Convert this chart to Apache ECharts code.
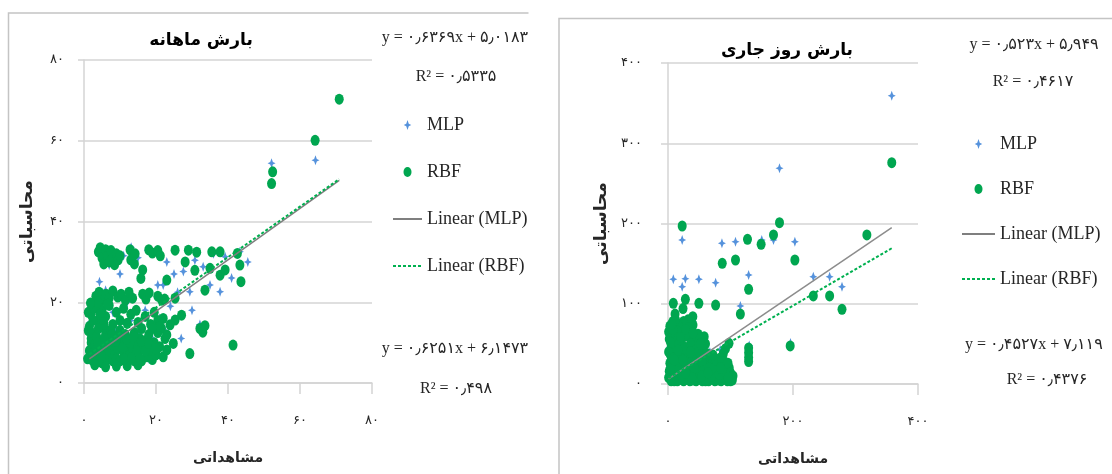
<!DOCTYPE html>
<html>
<head>
<meta charset="utf-8">
<script src="https://cdn.jsdelivr.net/npm/echarts@6/dist/echarts.min.js"></script>
<style>
html, body { margin: 0; padding: 0; background: #fff; overflow: hidden; }
#chart { width: 1112px; height: 474px; }
</style>
</head>
<body>
<div id="chart"></div>
<script>
// tick labels (Persian digits)
var monthlyXTicks = ['۰', '۲۰', '۴۰', '۶۰', '۸۰']
var monthlyYTicks = ['۰', '۲۰', '۴۰', '۶۰', '۸۰']
var dailyXTicks = ['۰', '۲۰۰', '۴۰۰']
var dailyYTicks = ['۰', '۱۰۰', '۲۰۰', '۳۰۰', '۴۰۰']

// بارش ماهانه - MLP (observed, computed)
var monthlyMLP = [
  [13.1, 33.6], [17.7, 32.8], [7, 29.2], [4.3, 25.1], [20.5, 24.3], [30.8, 30.4], [33.1, 28.8],
  [27.6, 27.6], [35, 24.3], [37.8, 22.6], [29.4, 22.6], [43.3, 32.5], [39.2, 31.3], [22, 24.3],
  [32.2, 14.5], [22.5, 13], [52.1, 54.4], [64.3, 55.2], [1.9, 15.2],
  [1.5, 5.8], [3, 5.2], [4.5, 5.6], [6, 5.3], [7.5, 5.7], [9, 5.4], [10.5, 5.8], [12, 5.5],
  [13.5, 5.9], [15, 5.6], [16.5, 5.8], [18, 6],
  [2.5, 9], [3, 12], [5, 14.5], [7, 10], [9, 13], [11, 9], [13, 15.5], [15, 12], [17, 18],
  [19, 11], [21, 16], [12, 20], [8, 17.5], [6, 23], [10, 27], [15, 31], [24, 19], [26, 22.5],
  [20, 9], [25, 27], [23, 30], [41, 26], [36, 32], [5, 33], [11, 31.5], [3.5, 18], [14, 8],
  [18.5, 14], [27, 11], [30, 18], [45.5, 30]
]
// بارش ماهانه - RBF
var monthlyRBF = [
  [4, 32.5], [4.5, 33.5], [5, 31], [5.5, 29.5], [6, 33], [6.5, 31.5], [7, 30], [7.5, 32.8],
  [8, 31], [8.5, 29.3], [9, 32], [9.5, 30.5], [10, 31.5], [12.8, 33], [13, 30.5], [14, 29.5],
  [14.2, 32], [18, 33], [19, 32.2], [20.5, 32.8], [21.2, 31.5], [25.3, 32.9], [29, 32.9],
  [31.3, 32.4], [35.5, 32.5], [37.8, 32.5], [28.1, 30], [30.8, 27.9], [35, 28.4], [37.8, 26.7],
  [39.2, 28], [42.6, 32.1], [43.3, 29.2], [43.6, 25.1], [16.3, 28], [15.8, 25.9], [23, 25.5],
  [33.6, 23], [25.3, 21], [21.6, 20.5],
  [3.3, 21.5], [4.2, 22.5], [5.2, 20.5], [6.1, 22], [7, 21], [8, 22.8], [9.4, 21.3], [10.3, 22],
  [11.5, 20.5], [12.5, 22.5], [13.5, 21], [16.3, 22], [17.2, 20.8], [18.1, 22.3], [20.5, 21.5],
  [22.4, 20.8],
  [2, 17], [3, 19], [4, 15.5], [5, 18], [6, 16.5], [7, 19.2], [8, 14.5], [9, 17.5], [10, 15.5],
  [11, 18.5], [12, 14.8], [13, 17], [14.5, 18], [15, 15], [17, 16.5], [18.5, 14.5], [19.5, 17.5],
  [20.5, 15.5], [21.5, 13.5], [22, 16], [27.1, 16.8], [25.3, 15.6], [23.9, 14.4], [32.2, 13.5],
  [33, 12.6], [33.6, 14.2],
  [1.5, 14], [2.5, 15.5], [1.2, 17.5], [2.8, 18.5], [4.5, 17], [5.5, 15], [6.5, 19.5], [3.8, 20],
  [1.8, 19.8], [5.8, 13.5], [2, 11], [1.2, 13],
  [1, 6], [1.5, 8], [2, 10], [2, 12.5], [2.5, 5.5], [3, 7], [3, 9.5], [3.5, 11.5], [4, 6],
  [4, 13.5], [4.5, 8.5], [5, 10.5], [5, 5], [5.5, 7], [6, 12], [6, 9], [6.5, 6], [7, 8], [7, 11],
  [7.5, 13], [8, 5.5], [8, 9.5], [8.5, 7], [9, 11.5], [9, 6], [9.5, 8.5], [10, 13], [10, 5.5],
  [10.5, 10], [11, 7.5], [11.5, 12], [12, 5.5], [12, 9], [12.5, 6.8], [13, 11], [13.5, 8],
  [14, 5.5], [14, 12.5], [14.5, 9.5], [15, 7], [15.5, 11], [16, 5.5], [16, 13.5], [16.5, 8.5],
  [17, 10.5], [17.5, 6.5], [18, 12], [18.5, 8], [19, 5.8], [19.5, 10], [20, 7], [20.5, 12.5],
  [21, 9], [22, 6.5], [22.5, 11], [23, 8.2], [23, 11.9], [24.8, 9.8], [29.4, 7.3], [41.4, 9.4],
  [21, 14], [19, 13.5], [3, 4.5], [6, 4], [9, 4.2], [12, 4.3], [15, 4.5],
  [2.2, 7.3], [4.8, 6.8], [6.8, 9.8], [8.8, 10.3], [10.8, 8.8], [12.8, 10], [14.8, 8], [16.2, 10],
  [11.2, 6], [13.2, 6.3], [15.5, 6], [17, 8], [18, 9.8], [19.8, 8.5], [3.8, 10], [5.8, 11],
  [7.8, 12], [9.8, 12], [11.8, 10.8], [13.8, 11.5],
  [52.4, 52.3], [52.1, 49.4], [64.2, 60.1], [70.9, 70.3]
]
var monthlyMLPTrend = [[1.5, 6.0], [70.9, 50.2]]
var monthlyRBFTrend = [[1.5, 7.1], [70.9, 50.5]]

// بارش روز جاری - MLP
var dailyMLP = [
  [358, 359.3], [178.4, 268.8], [22.7, 179.4], [86.3, 175.3], [108, 177.3], [150, 179.4],
  [168.8, 179.4], [203, 177.3], [129, 135.8], [8.5, 130.5], [27.8, 131.3], [49.4, 130.5],
  [76.2, 126.3], [22.7, 121.3], [115.8, 97.2], [232.5, 133.7], [258.6, 133.7], [278.4, 121.3],
  [83.5, 42.4], [59, 46.5], [48.5, 33.6], [35, 33], [196, 51], [130, 48], [40, 78], [67, 40],
  [5, 10], [10, 20], [15, 30], [20, 12], [25, 25], [30, 45], [12, 40], [45, 15], [55, 20],
  [65, 10], [70, 25], [8, 55], [18, 60], [3, 6], [30, 8], [60, 6], [90, 10], [100, 15],
  [40, 55], [75, 30], [2, 45], [50, 60]
]
// بارش روز جاری - RBF
var dailyRBF = [
  [358, 275.8], [178.4, 201], [22.7, 196.9], [127.2, 180.3], [149, 174.1], [168.8, 185.7],
  [318.2, 185.7], [86.8, 150.4], [108, 154.5], [203, 154.5], [129, 118], [8.5, 100.6],
  [27.8, 105.5], [49.4, 100.6], [76.2, 98.4], [11.3, 87.2], [115.8, 87.2], [232.5, 109.7],
  [258.6, 109.7], [278.4, 93], [195.5, 47.4], [129, 45], [129, 39], [129, 33], [129, 28],
  [97.6, 50.7], [39.7, 83.9], [40, 73.5], [57.9, 59], [27, 75.6], [32, 80], [88.5, 38],
  [86, 21.6], [24, 94], [21.9, 71.4],
  [1, 8], [2, 16], [3, 26], [4, 36], [5, 46], [2, 56], [6, 64], [3, 72], [8, 78], [10, 12],
  [12, 22], [14, 32], [9, 42], [13, 52], [11, 62], [7, 5], [15, 8], [17, 18], [18, 28],
  [20, 40], [22, 50], [24, 60], [19, 70], [26, 10], [28, 22], [30, 34], [33, 46], [35, 58],
  [37, 66], [25, 78], [30, 6], [34, 15], [38, 28], [16, 74], [6, 30], [1, 40], [1, 65], [10, 74],
  [42, 40], [44, 52], [40, 12], [45, 22], [48, 62], [48, 8], [50, 18], [52, 30], [55, 44],
  [60, 12], [62, 25], [65, 35], [68, 8], [70, 18], [58, 6],
  [72, 28], [75, 6], [78, 14], [80, 24], [83, 32], [85, 8], [88, 18], [90, 28], [93, 6],
  [95, 12], [98, 20], [100, 8], [103, 5], [92, 44], [60, 50],
  [5, 4], [15, 4], [25, 4], [35, 4], [45, 4], [55, 4], [65, 4], [75, 4], [85, 4], [95, 4],
  [20, 6], [40, 5], [60, 4], [80, 5], [100, 4],
  [4, 20], [8, 32], [12, 48], [6, 58], [14, 66], [18, 50], [22, 36], [26, 44], [28, 60],
  [32, 70], [36, 50], [40, 30], [44, 42], [46, 32], [50, 40], [52, 50], [55, 28], [57, 16],
  [62, 38], [66, 20], [70, 10], [74, 20], [77, 30], [82, 12], [86, 28], [90, 16], [96, 26],
  [100, 14], [104, 10], [16, 42], [10, 30], [4, 52], [8, 68], [20, 58], [28, 68], [12, 80],
  [6, 75], [40, 64], [36, 40], [24, 30], [18, 8], [42, 20], [54, 10], [64, 14], [72, 36],
  [84, 20], [96, 8], [38, 8], [10, 4], [28, 14]
]
var dailyMLPTrend = [[1, 6.5], [358, 195]]
var dailyRBFTrend = [[1, 7.6], [358, 169.2]]

var chart = echarts.init(document.getElementById('chart'))

var gridColor = '#d4d4d4'
var textColor = '#262626'
var arFont = "'DejaVu Sans'"
var eqFont = "'Liberation Serif', 'DejaVu Sans'"
var mlpColor = '#5592dc'
var rbfColor = '#00a650'
var starPath = 'path://M3,0L4,3L6,4L4,5L3,8L2,5L0,4L2,3Z'
var ellipsePath = 'path://M4,0A4,5,0,1,1,4,10A4,5,0,1,1,4,0Z'

function makeX(grid, max, interval, ticks, margin, name) {
  return {
    gridIndex: grid, type: 'value', min: 0, max: max, interval: interval,
    splitLine: { show: false },
    axisLine: { show: true, lineStyle: { color: gridColor, width: 1.5 } },
    axisTick: { show: true, length: 11, lineStyle: { color: gridColor, width: 1.5 } },
    axisLabel: {
      margin: margin, color: textColor, fontSize: 13, fontFamily: arFont,
      formatter: function (v) { return ticks[Math.round(v / interval)] }
    },
    name: name, nameLocation: 'middle', nameGap: 68,
    nameTextStyle: { color: textColor, fontSize: 14, fontWeight: 'bold', fontFamily: arFont }
  }
}
function makeY(grid, max, interval, ticks, margin, tick, name, gap) {
  return {
    gridIndex: grid, type: 'value', min: 0, max: max, interval: interval,
    splitLine: { show: true, lineStyle: { color: gridColor, width: 1.5 } },
    axisLine: { show: true, lineStyle: { color: gridColor, width: 1.5 } },
    axisTick: { show: true, length: tick, lineStyle: { color: gridColor, width: 1.5 } },
    axisLabel: {
      margin: margin, color: textColor, fontSize: 13, fontFamily: arFont,
      formatter: function (v) { return ticks[Math.round(v / interval)] }
    },
    name: name, nameLocation: 'middle', nameGap: gap,
    nameTextStyle: { color: textColor, fontSize: 17, fontWeight: 'bold', fontFamily: arFont }
  }
}
function scatter(name, idx, data, symbol, size, color) {
  return {
    name: name, type: 'scatter', xAxisIndex: idx, yAxisIndex: idx, data: data,
    symbol: symbol, symbolSize: size, itemStyle: { color: color, opacity: 1 }
  }
}
function trend(name, idx, data, color, type, width) {
  return {
    name: name, type: 'line', xAxisIndex: idx, yAxisIndex: idx, data: data,
    symbol: 'none', z: 5, lineStyle: { color: color, type: type, width: width },
    itemStyle: { color: color }
  }
}
function eqText(x, y, text, align) {
  return {
    type: 'text', x: x, y: y,
    style: { text: text, align: align || 'center', verticalAlign: 'middle',
      fontSize: 16, fontFamily: eqFont, fill: textColor }
  }
}
var legendItems = [
  { name: 'MLP' },
  { name: 'RBF' },
  { name: 'Linear (MLP)', itemStyle: { opacity: 0 } },
  { name: 'Linear (RBF)', itemStyle: { opacity: 0 } }
]

var options = {
  backgroundColor: '#fff',
  animation: false,
  title: [
    { text: 'بارش ماهانه', left: 196, top: 27, textAlign: 'center',
      textStyle: { fontSize: 17, fontWeight: 'bold', color: '#000', fontFamily: arFont } },
    { text: 'بارش روز جاری', left: 782, top: 37, textAlign: 'center',
      textStyle: { fontSize: 17, fontWeight: 'bold', color: '#000', fontFamily: arFont } }
  ],
  legend: [
    { data: legendItems, orient: 'vertical', left: 387, top: 111, itemWidth: 29, itemHeight: 10,
      itemGap: 29, textStyle: { fontSize: 18, fontFamily: eqFont, color: textColor } },
    { data: legendItems, orient: 'vertical', left: 956, top: 130, itemWidth: 33, itemHeight: 10,
      itemGap: 27, textStyle: { fontSize: 18, fontFamily: eqFont, color: textColor } }
  ],
  grid: [
    { left: 84, top: 60, width: 288, height: 323 },
    { left: 668, top: 63, width: 250, height: 321 }
  ],
  xAxis: [
    makeX(0, 80, 20, monthlyXTicks, 31, 'مشاهداتی'),
    makeX(1, 400, 200, dailyXTicks, 31, 'مشاهداتی')
  ],
  yAxis: [
    makeY(0, 80, 20, monthlyYTicks, 20, 6, 'محاسباتی', 48),
    makeY(1, 400, 100, dailyYTicks, 26, 7, 'محاسباتی', 58)
  ],
  series: [
    scatter('MLP', 0, monthlyMLP, starPath, [8, 10], mlpColor),
    scatter('RBF', 0, monthlyRBF, ellipsePath, [9, 11], rbfColor),
    trend('Linear (MLP)', 0, monthlyMLPTrend, '#7f7f7f', 'solid', 1.5),
    trend('Linear (RBF)', 0, monthlyRBFTrend, '#00b050', [3, 2], 2),
    scatter('MLP', 1, dailyMLP, starPath, [8, 10], mlpColor),
    scatter('RBF', 1, dailyRBF, ellipsePath, [9, 11], rbfColor),
    trend('Linear (MLP)', 1, dailyMLPTrend, '#8c8c8c', 'solid', 1.5),
    trend('Linear (RBF)', 1, dailyRBFTrend, '#00b050', [3, 2], 2)
  ],
  graphic: [
    { type: 'polyline', shape: { points: [[8.5, 480], [8.5, 13], [528.5, 13]] },
      style: { stroke: '#c4c4c4', lineWidth: 1.5, fill: null } },
    { type: 'polyline', shape: { points: [[559, 480], [559, 18.5], [1115, 18.5]] },
      style: { stroke: '#c4c4c4', lineWidth: 1.5, fill: null } },
    eqText(455, 38, 'y = ۰٫۶۳۶۹x + ۵٫۰۱۸۳'),
    eqText(456, 77, 'R² = ۰٫۵۳۳۵'),
    eqText(455, 349, 'y = ۰٫۶۲۵۱x + ۶٫۱۴۷۳'),
    eqText(456, 389, 'R² = ۰٫۴۹۸'),
    eqText(1034, 45, 'y = ۰٫۵۲۳x + ۵٫۹۴۹'),
    eqText(1033, 82, 'R² = ۰٫۴۶۱۷'),
    eqText(965, 345, 'y = ۰٫۴۵۲۷x + ۷٫۱۱۹', 'left'),
    eqText(1047, 380, 'R² = ۰٫۴۳۷۶')
  ]
}
chart.setOption(options)
</script>
</body>
</html>
